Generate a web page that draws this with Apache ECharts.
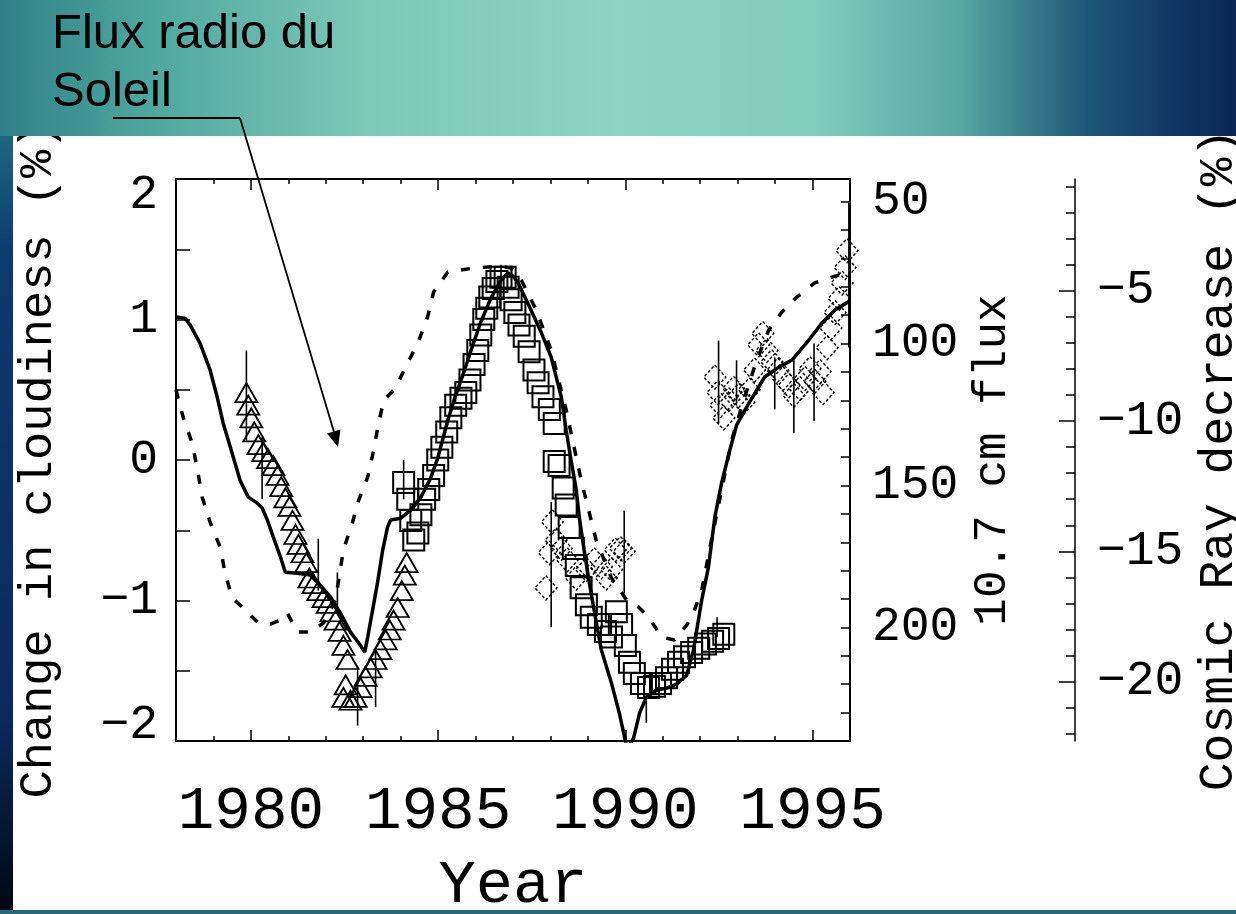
<!DOCTYPE html>
<html><head><meta charset="utf-8">
<script src="https://cdn.jsdelivr.net/npm/echarts@6/dist/echarts.min.js"></script>
<style>html,body{margin:0;padding:0;background:#fff;overflow:hidden}#c{width:1236px;height:914px}</style>
</head><body><div id="c"></div>
<script>
// ---- Data ----
const solidYears = [1978.00,1978.24,1978.38,1978.64,1978.91,1979.10,1979.26,1979.45,1979.71,1979.93,1980.17,1980.30,1980.44,1980.60,1980.79,1980.92,1981.24,1981.59,1981.80,1982.13,1982.39,1982.66,1982.88,1983.04,1983.12,1983.25,1983.38,1983.52,1983.65,1983.73,1984.00,1984.27,1984.54,1984.80,1984.99,1985.26,1985.47,1985.66,1985.88,1986.14,1986.41,1986.68,1986.87,1987.00,1987.13,1987.48,1987.75,1988.02,1988.29,1988.42,1988.55,1988.69,1988.77,1988.90,1989.04,1989.20,1989.36,1989.63,1989.84,1990.05,1990.22,1990.38,1990.56,1990.83,1991.10,1991.37,1991.64,1991.82,1992.04,1992.22,1992.39,1992.57,1992.79,1992.97,1993.30,1993.72,1994.10,1994.45,1994.90,1995.25,1995.60,1996.00];
const solidCosmic = [-6.01,-6.05,-6.32,-7.01,-8.04,-9.08,-10.08,-11.00,-12.27,-12.92,-13.15,-13.34,-13.80,-14.46,-15.22,-15.80,-15.84,-15.91,-16.22,-16.76,-17.37,-18.10,-18.52,-18.87,-18.29,-17.26,-16.22,-14.95,-14.07,-13.80,-13.73,-13.42,-12.92,-12.19,-11.42,-9.97,-9.00,-8.24,-7.28,-6.20,-5.28,-4.59,-4.32,-4.44,-4.67,-5.74,-6.59,-7.55,-9.08,-10.35,-11.50,-12.65,-13.69,-14.95,-16.22,-17.53,-18.79,-20.06,-21.21,-22.6,-22.17,-21.21,-20.60,-20.33,-20.25,-20.10,-19.75,-18.79,-16.87,-15.61,-13.69,-12.38,-11.12,-10.16,-9.31,-8.31,-7.93,-7.66,-6.89,-6.24,-5.74,-5.38];

const dashYears = [1978.00,1978.19,1978.43,1978.56,1978.70,1978.91,1979.18,1979.31,1979.50,1979.77,1980.20,1980.52,1980.79,1980.97,1981.24,1981.59,1981.94,1982.26,1982.47,1982.71,1982.88,1983.12,1983.28,1983.41,1983.55,1983.87,1984.13,1984.46,1984.72,1984.88,1985.26,1985.93,1986.63,1986.95,1987.22,1987.62,1988.02,1988.42,1988.82,1989.22,1989.63,1990.03,1990.35,1990.62,1990.97,1991.31,1991.64,1991.82,1992.04,1992.30,1992.57,1992.84,1993.16,1993.51,1993.83,1994.18,1994.58,1995.06,1995.60,1996.00];
const dashFlux = [116.3,125.9,135.0,143.5,154.1,162.9,171.7,180.8,189.6,192.8,198.4,198.8,197.4,194.9,201.6,201.6,198.4,190.3,172.7,163.2,155.1,147.0,137.5,128.0,119.9,115.6,108.2,99.8,90.6,81.8,74.8,73.4,72.7,73.4,77.6,88.2,102.3,123.4,148.1,169.2,182.6,190.3,192.8,196.3,203.4,204.4,199.2,194.9,186.8,169.2,151.6,134.0,119.9,105.8,95.2,88.9,83.6,78.6,76.2,74.8];

const triYears = [1979.88,1979.93,1980.01,1980.09,1980.20,1980.33,1980.46,1980.60,1980.71,1980.81,1980.92,1981.03,1981.11,1981.19,1981.27,1981.38,1981.48,1981.56,1981.67,1981.80,1981.94,1982.05,1982.15,1982.26,1982.37,1982.47,1982.58,1982.53,1982.47,1982.66,1982.80,1982.93,1983.06,1983.20,1983.33,1983.46,1983.60,1983.71,1983.81,1983.92,1984.03,1984.11,1984.16];
const triCloud = [0.48,0.39,0.30,0.20,0.11,0.06,0.01,-0.04,-0.11,-0.19,-0.27,-0.33,-0.43,-0.53,-0.60,-0.66,-0.73,-0.84,-0.88,-0.93,-0.98,-1.02,-1.08,-1.14,-1.22,-1.32,-1.42,-1.60,-1.69,-1.71,-1.69,-1.62,-1.54,-1.48,-1.42,-1.35,-1.28,-1.21,-1.14,-1.05,-0.93,-0.82,-0.73];

const sqYears = [1984.08,1984.19,1984.27,1984.35,1984.46,1984.54,1984.64,1984.75,1984.88,1984.99,1985.10,1985.23,1985.34,1985.47,1985.61,1985.74,1985.85,1985.96,1986.06,1986.14,1986.22,1986.30,1986.38,1986.47,1986.57,1986.68,1986.79,1986.87,1986.95,1987.05,1987.16,1987.30,1987.43,1987.56,1987.67,1987.80,1987.97,1988.10,1988.10,1988.23,1988.34,1988.42,1988.50,1988.61,1988.69,1988.82,1988.96,1989.09,1989.28,1989.47,1989.63,1989.76,1989.90,1990.00,1990.11,1990.24,1990.43,1990.62,1990.78,1990.94,1991.10,1991.26,1991.42,1991.58,1991.77,1991.96,1992.14,1992.33,1992.49,1992.63];
const sqCloud = [-0.16,-0.28,-0.43,-0.57,-0.52,-0.39,-0.28,-0.21,-0.11,0.00,0.09,0.20,0.30,0.39,0.44,0.48,0.57,0.68,0.78,0.89,1.00,1.08,1.16,1.22,1.27,1.30,1.30,1.23,1.14,1.05,0.96,0.88,0.77,0.64,0.55,0.45,0.36,0.26,-0.01,-0.04,-0.20,-0.32,-0.48,-0.63,-0.75,-0.91,-1.03,-1.12,-1.17,-1.22,-1.26,-1.08,-1.17,-1.32,-1.44,-1.52,-1.59,-1.62,-1.61,-1.59,-1.55,-1.49,-1.44,-1.40,-1.37,-1.34,-1.31,-1.29,-1.27,-1.24];

const diaYears = [1987.88,1987.97,1988.05,1988.15,1988.29,1988.45,1988.69,1988.96,1989.17,1989.36,1989.49,1989.63,1989.73,1989.87,1989.97,1992.39,1992.47,1992.55,1992.63,1992.76,1992.89,1993.03,1993.16,1993.31,1993.45,1993.56,1993.67,1993.78,1993.91,1994.07,1994.21,1994.37,1994.50,1994.66,1994.80,1994.93,1995.06,1995.20,1995.28,1995.39,1995.49,1995.60,1995.71,1995.79,1995.87,1995.92];
const diaCloud = [-0.91,-0.66,-0.44,-0.57,-0.63,-0.71,-0.84,-0.78,-0.71,-0.76,-0.84,-0.78,-0.64,-0.63,-0.65,0.59,0.48,0.39,0.30,0.43,0.51,0.46,0.41,0.50,0.64,0.82,0.90,0.78,0.70,0.64,0.58,0.53,0.46,0.51,0.58,0.65,0.56,0.63,0.48,0.80,0.94,1.05,1.15,1.26,1.37,1.49];

const errYears = [1979.88,1980.30,1981.80,1982.31,1982.85,1983.33,1984.08,1986.68,1988.02,1989.97,1990.56,1992.45,1992.49,1992.97,1993.99,1994.50,1995.04,1995.97];
const errLow   = [0.14,-0.28,-0.93,-1.05,-1.89,-1.76,-0.28,1.22,-1.19,-0.95,-1.87,-1.26,0.26,0.41,0.36,0.19,0.28,0.80];
const errHigh  = [0.78,0.16,-0.56,-0.80,-1.47,-1.35,0.00,1.39,-0.30,-0.36,-1.71,-1.12,0.85,0.71,0.73,0.71,0.83,1.83];

// ---- Ticks / labels ----
const xTickYears = [1980,1985,1990,1995];
const xMinorYears = [1978,1979,1980,1981,1982,1983,1984,1985,1986,1987,1988,1989,1990,1991,1992,1993,1994,1995,1996];
const fluxLabels = [50,100,150,200];
const fluxTicks = [50,60,70,80,90,100,110,120,130,140,150,160,170,180,190,200,210,220,230,240];
const cosmicLabels = [-5,-10,-15,-20];
const cosmicTicks = [-1,-2,-3,-4,-5,-6,-7,-8,-9,-10,-11,-12,-13,-14,-15,-16,-17,-18,-19,-20,-21,-22];

const zip = (a,b) => a.map((v,i)=>[v,b[i]]);
const mono = 'Liberation Mono';
const minus = v => (v < 0 ? '\u2212' + Math.abs(v) : String(v));
const tickStyle = {color:'#000', width:1.5};
const XMIN = 1978, XMAX = 1996;

const chart = echarts.init(document.getElementById('c'), null, {width:1236, height:914});
const LG = echarts.graphic.LinearGradient;
const bannerStops = [{offset:0,color:'#2f8088'},{offset:0.12,color:'#4ea79e'},{offset:0.3,color:'#7ec9b7'},{offset:0.5,color:'#8dd4c2'},{offset:0.66,color:'#82ccbc'},{offset:0.78,color:'#55a5a3'},{offset:0.88,color:'#1e5677'},{offset:0.95,color:'#113663'},{offset:1,color:'#0b2754'}];

const option = {
  animation: false,
  backgroundColor: 'transparent',
  grid: {left:176, right:386, top:179, bottom:173, containLabel:false, outerBoundsMode:'none'},
  xAxis: [
    {type:'value', position:'bottom', min:XMIN, max:XMAX,
     axisLine:{show:true, onZero:false, lineStyle:{color:'#000', width:2}},
     axisTick:{show:true, inside:true, length:11, customValues:xTickYears, lineStyle:tickStyle},
     axisLabel:{show:true, customValues:xTickYears, formatter:v=>String(v), margin:40, fontFamily:mono, fontSize:61, color:'#000'},
     splitLine:{show:false},
     name:'Year', nameLocation:'middle', nameGap:114, nameTextStyle:{fontFamily:mono, fontSize:62, color:'#000'}},
    {type:'value', position:'bottom', min:XMIN, max:XMAX,
     axisLine:{show:false, onZero:false},
     axisTick:{show:true, inside:true, length:5, customValues:xMinorYears, lineStyle:tickStyle},
     axisLabel:{show:false}, splitLine:{show:false}},
    {type:'value', position:'top', min:XMIN, max:XMAX,
     axisLine:{show:true, onZero:false, lineStyle:{color:'#000', width:2}},
     axisTick:{show:true, inside:true, length:11, customValues:xTickYears, lineStyle:tickStyle},
     axisLabel:{show:false}, splitLine:{show:false}},
    {type:'value', position:'top', min:XMIN, max:XMAX,
     axisLine:{show:false, onZero:false},
     axisTick:{show:true, inside:true, length:5, customValues:xMinorYears, lineStyle:tickStyle},
     axisLabel:{show:false}, splitLine:{show:false}}
  ],
  yAxis: [
    {type:'value', position:'left', min:-2, max:2, interval:0.5,
     axisLine:{show:true, onZero:false, lineStyle:{color:'#000', width:2}},
     axisTick:{show:true, inside:true, length:14, lineStyle:tickStyle},
     axisLabel:{formatter:v=>(Number.isInteger(v)?minus(v):''), margin:18, fontFamily:mono, fontSize:48, lineHeight:32, color:'#000',
                verticalAlignMinLabel:'bottom', verticalAlignMaxLabel:'top'},
     splitLine:{show:false},
     name:'Change in cloudiness (%)', nameLocation:'middle', nameRotate:90, nameGap:114,
     nameTextStyle:{fontFamily:mono, fontSize:47, color:'#000'}},
    {type:'value', position:'right', offset:0, min:42, max:240, inverse:true,
     axisLine:{show:true, onZero:false, lineStyle:{color:'#000', width:2}},
     axisTick:{show:true, inside:true, length:9, customValues:fluxTicks, lineStyle:tickStyle},
     axisLabel:{customValues:fluxLabels, formatter:v=>String(v), margin:22, fontFamily:mono, fontSize:48, color:'#000'},
     splitLine:{show:false},
     name:'10.7 cm flux', nameLocation:'middle', nameRotate:90, nameGap:118,
     nameTextStyle:{fontFamily:mono, fontSize:46, color:'#000'}},
    {type:'value', position:'right', offset:225, min:-22.28, max:-0.71,
     axisLine:{show:true, onZero:false, lineStyle:{color:'#000', width:1.5}},
     axisTick:{show:true, inside:true, length:16, customValues:cosmicLabels, lineStyle:tickStyle},
     axisLabel:{customValues:cosmicLabels, formatter:minus, margin:22, fontFamily:mono, fontSize:48, color:'#000'},
     splitLine:{show:false},
     name:'Cosmic Ray decrease (%)', nameLocation:'middle', nameRotate:90, nameGap:120,
     nameTextStyle:{fontFamily:mono, fontSize:48, color:'#000'}},
    {type:'value', position:'right', offset:225, min:-22.28, max:-0.71,
     axisLine:{show:false, onZero:false},
     axisTick:{show:true, inside:true, length:9, customValues:cosmicTicks, lineStyle:tickStyle},
     axisLabel:{show:false}, splitLine:{show:false}}
  ],
  series: [
    {type:'custom', name:'errors', xAxisIndex:0, yAxisIndex:0, z:3,
     data: errYears.map((y,i)=>[y, errLow[i], errHigh[i]]),
     encode:{x:0, y:[1,2]},
     renderItem:(params, api)=>{
       const p1 = api.coord([api.value(0), api.value(1)]);
       const p2 = api.coord([api.value(0), api.value(2)]);
       return {type:'line', shape:{x1:p1[0], y1:p1[1], x2:p2[0], y2:p2[1]}, style:{stroke:'#000', lineWidth:1.6}};
     }},
    {type:'scatter', name:'Nimbus-7', xAxisIndex:0, yAxisIndex:0, z:4, data:zip(triYears, triCloud),
     symbol:'triangle', symbolSize:[22,19],
     itemStyle:{color:'rgba(0,0,0,0)', borderColor:'#000', borderWidth:1.8, opacity:1}},
    {type:'scatter', name:'ISCCP', xAxisIndex:0, yAxisIndex:0, z:4, data:zip(sqYears, sqCloud),
     symbol:'rect', symbolSize:21,
     itemStyle:{color:'rgba(0,0,0,0)', borderColor:'#000', borderWidth:2, opacity:1}},
    {type:'scatter', name:'DMSP', xAxisIndex:0, yAxisIndex:0, z:4, data:zip(diaYears, diaCloud),
     symbol:'diamond', symbolSize:[22,24],
     itemStyle:{color:'rgba(0,0,0,0)', borderColor:'#000', borderWidth:1.4, borderType:[3,2], opacity:1}},
    {type:'line', name:'10.7 cm flux', xAxisIndex:0, yAxisIndex:1, z:5, data:zip(dashYears, dashFlux),
     showSymbol:false, symbol:'none',
     lineStyle:{color:'#000', width:3.5, type:[9,13], cap:'butt'}},
    {type:'line', name:'Cosmic rays', xAxisIndex:0, yAxisIndex:2, z:5, data:zip(solidYears, solidCosmic),
     showSymbol:false, symbol:'none', clip:true,
     lineStyle:{color:'#000', width:3.5}}
  ],
  graphic: {elements: [
    {type:'rect', z:-100, silent:true, shape:{x:0, y:0, width:1236, height:914},
     style:{fill:new LG(0,0,1,0,bannerStops)}},
    {type:'rect', z:-99, silent:true, shape:{x:0, y:136, width:13, height:778},
     style:{fill:new LG(0,0,0,1,[{offset:0,color:'#1e6680'},{offset:0.15,color:'#0d3a70'},{offset:0.75,color:'#0a2a5c'},{offset:1,color:'#020610'}])}},
    {type:'rect', z:-99, silent:true, shape:{x:0, y:910, width:1236, height:4},
     style:{fill:'#2a6a78'}},
    {type:'rect', z:-98, silent:true, shape:{x:13, y:136, width:1223, height:774},
     style:{fill:'#ffffff'}},
    {type:'rect', z:100, silent:true, shape:{x:0, y:0, width:1236, height:136},
     style:{fill:new LG(0,0,1,0,bannerStops)}},
    {type:'text', z:101, silent:true, x:52, y:34,
     style:{text:'Flux radio du', fontFamily:'Liberation Sans', fontSize:49, fill:'#000', verticalAlign:'middle', align:'left'}},
    {type:'text', z:101, silent:true, x:52, y:92,
     style:{text:'Soleil', fontFamily:'Liberation Sans', fontSize:49, fill:'#000', verticalAlign:'middle', align:'left'}},
    {type:'line', z:101, silent:true, shape:{x1:113, y1:118, x2:240, y2:118}, style:{stroke:'#000', lineWidth:2}},
    {type:'line', z:101, silent:true, shape:{x1:240, y1:118, x2:334, y2:432}, style:{stroke:'#000', lineWidth:1.8}},
    {type:'polygon', z:101, silent:true, shape:{points:[[338,447],[340.5,429.5],[327,433.5]]}, style:{fill:'#000'}}
  ]}
};
chart.setOption(option);
</script>
</body></html>
